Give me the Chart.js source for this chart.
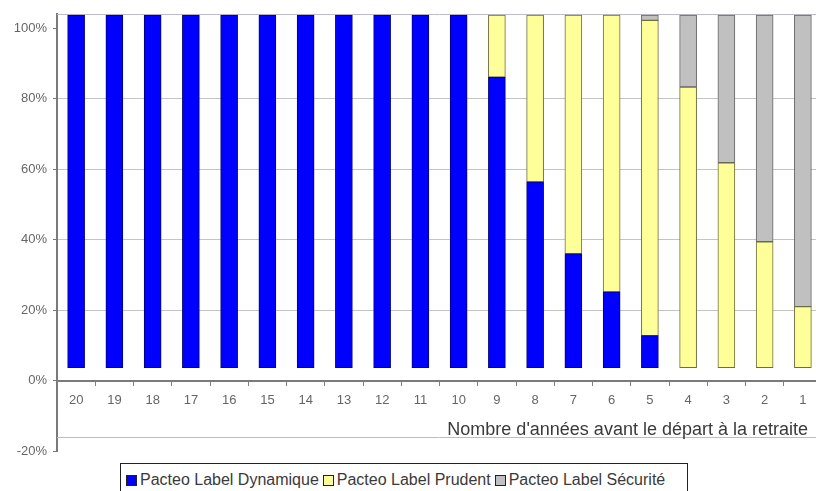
<!DOCTYPE html>
<html>
<head>
<meta charset="utf-8">
<script src="https://cdn.jsdelivr.net/npm/chart.js@4/dist/chart.umd.min.js"></script>
<style>
  html, body { margin: 0; padding: 0; background: #fff; overflow: hidden; }
  #wrap { position: relative; width: 824px; height: 491px; }
  #chartBox { position: absolute; left: 0; top: 0; width: 824px; height: 465px; }
  #legend {
    position: absolute; left: 120px; top: 463px; width: 568px; height: 34px;
    border: 1px solid #222; box-sizing: border-box; background: #fff;
    font-family: 'Liberation Sans', Arial, sans-serif; font-size: 16px; color: #3a3a3a;
    display: flex; align-items: center; padding-left: 3px; white-space: nowrap;
  }
  #legend .sw { display: inline-block; width: 9px; height: 9px; border: 1px solid #222; margin: 0 3px 0 2px; }
  #legend .it { display: inline-flex; align-items: center; margin-right: 2px; }
</style>
</head>
<body>
<div id="wrap">
  <div id="chartBox"><canvas id="graph"></canvas></div>
  <div id="legend"></div>
</div>
<script>
// annees avant le depart
var categories = ['20','19','18','17','16','15','14','13','12','11','10','9','8','7','6','5','4','3','2','1'];
// decalage du bas des barres (les barres ne partent pas de 0%)
var baseOffset = [3.7,3.7,3.7,3.7,3.7,3.7,3.7,3.7,3.7,3.7,3.7,3.7,3.7,3.7,3.7,3.7,3.7,3.7,3.7,3.7];
var dynamique = [100,100,100,100,100,100,100,100,100,100,100,82.4,52.7,32.3,21.5,9.1,0,0,0,0];
var prudent   = [0,0,0,0,0,0,0,0,0,0,0,17.6,47.3,67.7,78.5,89.4,79.6,58.1,35.7,17.3];
var securite  = [0,0,0,0,0,0,0,0,0,0,0,0,0,0,0,1.5,20.4,41.9,64.3,82.7];
var yTicks = [-20,0,20,40,60,80,100];
var seriesNames = ['Pacteo Label Dynamique','Pacteo Label Prudent','Pacteo Label Sécurité'];
var xTitle = "Nombre d'années avant le départ à la retraite";

var fontFam = "'Liberation Sans', Arial, sans-serif";
var fills = ['#0000FF','#FFFF99','#C0C0C0'];
var borders = ['#00007a','#6e6e3c','#666666'];

function nz(arr){ return arr.map(function(v){ return v ? v : null; }); }

// lignes en plus: bord haut du graphe et ligne au dessus du titre
var extraLines = {
  id: 'extraLines',
  beforeDatasetsDraw: function(chart) {
    var ctx = chart.ctx, ca = chart.chartArea, y = chart.scales.y;
    ctx.save();
    ctx.strokeStyle = '#bdbdc8';
    ctx.lineWidth = 1;
    ctx.beginPath();
    ctx.moveTo(ca.left, Math.round(ca.top) + 0.5);
    ctx.lineTo(ca.right, Math.round(ca.top) + 0.5);
    var yl = Math.round(y.getPixelForValue(-16)) + 0.5;
    ctx.moveTo(ca.left, yl);
    ctx.lineTo(ca.right, yl);
    ctx.stroke();
    ctx.fillStyle = '#3a3a3a';
    ctx.font = '18px ' + fontFam;
    ctx.textAlign = 'right';
    ctx.textBaseline = 'alphabetic';
    ctx.fillText(xTitle, ca.right - 14, yl - 3);
    ctx.restore();
  }
};

var chartdata = {
  labels: categories,
  datasets: [
    { label: '', data: baseOffset, backgroundColor: 'rgba(0,0,0,0)', borderWidth: 0 },
    { label: seriesNames[0], data: nz(dynamique), backgroundColor: fills[0], borderColor: borders[0], borderWidth: 1, borderSkipped: false },
    { label: seriesNames[1], data: nz(prudent), backgroundColor: fills[1], borderColor: borders[1], borderWidth: 1, borderSkipped: false },
    { label: seriesNames[2], data: nz(securite), backgroundColor: fills[2], borderColor: borders[2], borderWidth: 1, borderSkipped: false }
  ]
};

var graphTarget = document.getElementById('graph');
var barGraph = new Chart(graphTarget, {
  type: 'bar',
  data: chartdata,
  plugins: [extraLines],
  options: {
    responsive: true,
    maintainAspectRatio: false,
    animation: false,
    layout: { padding: { top: 14, right: 2, bottom: 10, left: 0 } },
    plugins: { legend: { display: false }, tooltip: { enabled: false } },
    datasets: { bar: { barThickness: 17 } },
    scales: {
      x: {
        stacked: true,
        position: { y: 0 },
        grid: { offset: true, drawOnChartArea: false, drawTicks: true, tickLength: 4, color: '#808080', tickColor: '#808080' },
        border: { display: true, color: '#7a7a7a', width: 2 },
        ticks: { color: '#666', font: { family: fontFam, size: 13 }, padding: 8, maxRotation: 0, autoSkip: false }
      },
      y: {
        stacked: true,
        min: -20,
        max: 104,
        afterBuildTicks: function(scale) {
          scale.ticks = yTicks.map(function(v){ return { value: v }; });
        },
        afterFit: function(scale) { scale.width = 57; },
        grid: {
          color: function(c) { return (c.tick && c.tick.value > 0 && c.tick.value < 100) ? '#c4c4c4' : 'rgba(0,0,0,0)'; },
          tickColor: '#7a7a7a',
          tickLength: 4
        },
        border: { display: true, color: '#7a7a7a', width: 2 },
        ticks: {
          color: '#666',
          font: { family: fontFam, size: 13 },
          padding: 6,
          callback: function(v) { return v + '%'; }
        }
      }
    }
  }
});

// legende en html
var leg = document.getElementById('legend');
for (let i = 0; i < seriesNames.length; i++) {
  var it = document.createElement('span');
  it.className = 'it';
  it.innerHTML = '<span class="sw" style="background:' + fills[i] + '"></span>' + seriesNames[i];
  leg.appendChild(it);
}
</script>
</body>
</html>
